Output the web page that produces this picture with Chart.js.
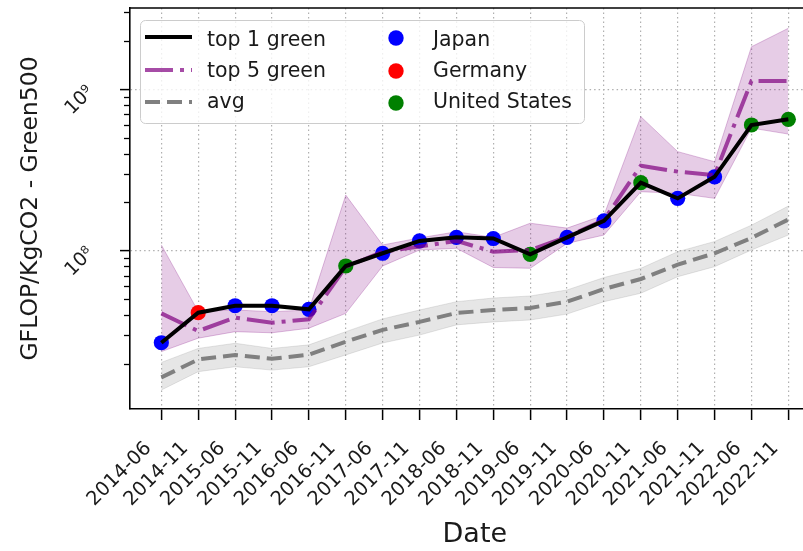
<!DOCTYPE html>
<html>
<head>
<meta charset="utf-8">
<script src="https://cdn.jsdelivr.net/npm/chart.js@4.4.0/dist/chart.umd.min.js"></script>
<style>
  html, body { margin: 0; padding: 0; background: #fff; overflow: hidden; }
  #wrap { width: 830px; height: 551px; }
</style>
</head>
<body>
<div id="wrap"><canvas id="c" width="830" height="551"></canvas></div>
<script>
// Green500 release dates
const dates = ['2014-06','2014-11','2015-06','2015-11','2016-06','2016-11','2017-06','2017-11','2018-06',
               '2018-11','2019-06','2019-11','2020-06','2020-11','2021-06','2021-11','2022-06','2022-11'];

// Greenest system (GFLOP per kg CO2) and its country
const top1 = [2.69e7, 4.13e7, 4.56e7, 4.56e7, 4.33e7, 8.04e7, 9.64e7, 1.15e8, 1.21e8,
              1.19e8, 9.5e7, 1.21e8, 1.53e8, 2.64e8, 2.11e8, 2.87e8, 6.01e8, 6.52e8];
const top1Country = ['Japan','Germany','Japan','Japan','Japan','United States','Japan','Japan','Japan',
                     'Japan','United States','Japan','Japan','United States','Japan','Japan','United States','United States'];

// Five greenest systems: mean and spread
const top5 = [4.09e7, 3.18e7, 3.85e7, 3.58e7, 3.76e7, 7.93e7, 9.86e7, 1.06e8, 1.15e8,
              9.86e7, 1.01e8, 1.22e8, 1.55e8, 3.36e8, 3.09e8, 2.94e8, 1.125e9, 1.125e9];
const top5High = [1.085e8, 4.2e7, 4.29e7, 4.19e7, 4.29e7, 2.21e8, 1.085e8, 1.2e8, 1.31e8,
                  1.21e8, 1.48e8, 1.38e8, 1.66e8, 6.77e8, 4.11e8, 3.56e8, 1.835e9, 2.39e9];
const top5Low = [2.37e7, 2.87e7, 3.15e7, 3.1e7, 3.31e7, 4.09e7, 8.04e7, 1.01e8, 1.035e8,
                 7.87e7, 7.78e7, 1.11e8, 1.25e8, 2.32e8, 2.27e8, 2.11e8, 5.75e8, 5.28e8];

// Whole list average and spread
const avg = [1.64e7, 2.12e7, 2.26e7, 2.14e7, 2.27e7, 2.73e7, 3.23e7, 3.62e7, 4.11e7,
             4.29e7, 4.42e7, 4.83e7, 5.79e7, 6.68e7, 8.19e7, 9.64e7, 1.2e8, 1.56e8];
const avgHigh = [2.03e7, 2.48e7, 2.67e7, 2.48e7, 2.61e7, 3.15e7, 3.78e7, 4.29e7, 4.83e7,
                 5.09e7, 5.24e7, 5.71e7, 6.82e7, 7.78e7, 9.86e7, 1.14e8, 1.44e8, 1.89e8];
const avgLow = [1.37e7, 1.78e7, 1.91e7, 1.82e7, 1.91e7, 2.26e7, 2.68e7, 3.0e7, 3.47e7,
                3.62e7, 3.72e7, 4.05e7, 4.83e7, 5.45e7, 6.9e7, 7.96e7, 1.01e8, 1.25e8];

const countries = ['Japan', 'Germany', 'United States'];
const countryColors = { 'Japan': '#0000ff', 'Germany': '#ff0000', 'United States': '#008000' };

// log axis range and tick values
const yMin = 1.045e7, yMax = 3.19e9;
const yMajor = [1e8, 1e9];
const yMajorLabels = { 100000000: '10\u2078', 1000000000: '10\u2079' };
const yTickValues = [2e7,3e7,4e7,5e7,6e7,7e7,8e7,9e7,1e8,2e8,3e8,4e8,5e8,6e8,7e8,8e8,9e8,1e9,2e9,3e9];

const pts = arr => arr.map((v, i) => ({ x: i, y: v }));

const datasets = [
  { label: 'avg high', data: pts(avgHigh), borderColor: 'rgba(128,128,128,0.2)', borderWidth: 1,
    pointRadius: 0, fill: false, order: 10 },
  { label: 'avg low', data: pts(avgLow), borderColor: 'rgba(128,128,128,0.2)', borderWidth: 1,
    pointRadius: 0, fill: '-1', backgroundColor: 'rgba(128,128,128,0.2)', order: 9 },
  { label: 'avg', data: pts(avg), borderColor: '#808080', borderWidth: 4, borderDash: [15, 7],
    pointRadius: 0, fill: false, order: 8 },
  { label: 'top 5 high', data: pts(top5High), borderColor: 'rgba(128,0,128,0.25)', borderWidth: 1,
    pointRadius: 0, fill: false, order: 7 },
  { label: 'top 5 low', data: pts(top5Low), borderColor: 'rgba(128,0,128,0.25)', borderWidth: 1,
    pointRadius: 0, fill: '-1', backgroundColor: 'rgba(128,0,128,0.2)', order: 6 },
];
countries.forEach(c => {
  datasets.push({
    label: c,
    data: top1.map((v, i) => ({ x: i, y: top1Country[i] === c ? v : null })),
    showLine: false, pointRadius: 7.6, pointBorderWidth: 0,
    pointBackgroundColor: countryColors[c], backgroundColor: countryColors[c],
    borderColor: countryColors[c], order: 5
  });
});
datasets.push({ label: 'top 5 green', data: pts(top5), borderColor: 'rgba(128,0,128,0.7)', borderWidth: 4,
  borderDash: [28, 7, 4, 7], pointRadius: 0, fill: false, order: 2 });
datasets.push({ label: 'top 1 green', data: pts(top1), borderColor: '#000000', borderWidth: 4,
  pointRadius: 0, fill: false, order: 1 });

const FONT = "'DejaVu Sans', sans-serif";

// minor tick marks on the log axis and the top spine
const axisExtras = {
  id: 'axisExtras',
  afterDraw(chart) {
    const { ctx, chartArea } = chart;
    const y = chart.scales.y;
    ctx.save();
    ctx.strokeStyle = '#000';
    ctx.lineWidth = 1.3;
    y.ticks.forEach(t => {
      if (yMajor.includes(t.value)) return;
      const py = Math.round(y.getPixelForValue(t.value)) + 0.5;
      ctx.beginPath();
      ctx.moveTo(chartArea.left - 6, py);
      ctx.lineTo(chartArea.left, py);
      ctx.stroke();
    });
    ctx.lineWidth = 1.6;
    ctx.beginPath();
    ctx.moveTo(chartArea.left - 0.8, chartArea.top);
    ctx.lineTo(chartArea.right, chartArea.top);
    ctx.stroke();
    ctx.restore();
  }
};

// two-column legend in the upper left of the plot
const cornerLegend = {
  id: 'cornerLegend',
  afterDatasetsDraw(chart) {
    const ctx = chart.ctx;
    const find = l => chart.data.datasets.find(d => d.label === l);
    const lines = ['top 1 green', 'top 5 green', 'avg'];
    const rowY = [37, 70, 102];
    const baseY = [46, 77, 108];
    ctx.save();
    ctx.beginPath();
    ctx.roundRect(140.5, 20.5, 444, 103, 5);
    ctx.fillStyle = 'rgba(255,255,255,0.8)';
    ctx.fill();
    ctx.strokeStyle = '#cccccc';
    ctx.lineWidth = 1;
    ctx.stroke();
    ctx.font = '20.5px ' + FONT;
    ctx.textBaseline = 'alphabetic';
    ctx.textAlign = 'left';
    lines.forEach((l, i) => {
      const d = find(l);
      ctx.beginPath();
      ctx.setLineDash(d.borderDash || []);
      ctx.strokeStyle = d.borderColor;
      ctx.lineWidth = d.borderWidth;
      ctx.moveTo(145, rowY[i]);
      ctx.lineTo(192, rowY[i]);
      ctx.stroke();
      ctx.setLineDash([]);
      ctx.fillStyle = '#1a1a1a';
      ctx.fillText(l, 207, baseY[i]);
    });
    countries.forEach((c, i) => {
      const d = find(c);
      ctx.beginPath();
      ctx.arc(396, rowY[i] + 1, 7.7, 0, Math.PI * 2);
      ctx.fillStyle = d.pointBackgroundColor;
      ctx.fill();
      ctx.fillStyle = '#1a1a1a';
      ctx.fillText(c, 433, baseY[i]);
    });
    ctx.restore();
  }
};

new Chart(document.getElementById('c'), {
  type: 'line',
  data: { datasets },
  plugins: [axisExtras, cornerLegend],
  options: {
    responsive: false,
    animation: false,
    devicePixelRatio: 1,
    layout: { padding: { top: 8, right: 10.3, left: 0, bottom: 0 } },
    elements: { line: { tension: 0 } },
    plugins: { legend: { display: false }, tooltip: { enabled: false } },
    scales: {
      x: {
        type: 'linear',
        min: -0.85, max: 17.85,
        afterBuildTicks: s => { s.ticks = dates.map((d, i) => ({ value: i })); },
        afterFit: s => { s.height = 142; s.paddingLeft = 0; s.paddingRight = 0; },
        ticks: {
          callback: v => dates[v],
          minRotation: 45, maxRotation: 45, autoSkip: false,
          font: { family: FONT, size: 19.5 }, color: '#1a1a1a',
          padding: 17, labelOffset: -13
        },
        grid: { color: '#b0b0b0', lineWidth: 1.2, tickColor: '#000', tickLength: 11, tickWidth: 1.5 },
        border: { display: true, color: '#000', width: 1.6, dash: [1.5, 3] },
        title: { display: true, text: 'Date', font: { family: FONT, size: 27 }, color: '#1a1a1a',
                 padding: { top: 0, bottom: 0 } }
      },
      y: {
        type: 'logarithmic',
        min: yMin, max: yMax,
        afterBuildTicks: s => { s.ticks = yTickValues.map(v => ({ value: v, major: yMajor.includes(v) })); },
        afterFit: s => { s.width = 130; s.paddingTop = 0; s.paddingBottom = 0; },
        ticks: {
          callback: v => yMajorLabels[v] || '',
          minRotation: 45, maxRotation: 45, autoSkip: false,
          font: { family: FONT, size: 19 }, color: '#1a1a1a', padding: 29
        },
        grid: {
          color: c => (c.tick && yMajor.includes(c.tick.value)) ? '#b0b0b0' : 'rgba(0,0,0,0)',
          tickColor: c => (c.tick && yMajor.includes(c.tick.value)) ? '#000' : 'rgba(0,0,0,0)',
          lineWidth: 1.2, tickLength: 10, tickWidth: 1.5
        },
        border: { display: true, color: '#000', width: 1.6, dash: [1.5, 3] },
        title: { display: true, text: 'GFLOP/KgCO2 - Green500', font: { family: FONT, size: 23.5 },
                 color: '#1a1a1a', padding: { top: 17, bottom: 0 } }
      }
    }
  }
});
</script>
</body>
</html>
